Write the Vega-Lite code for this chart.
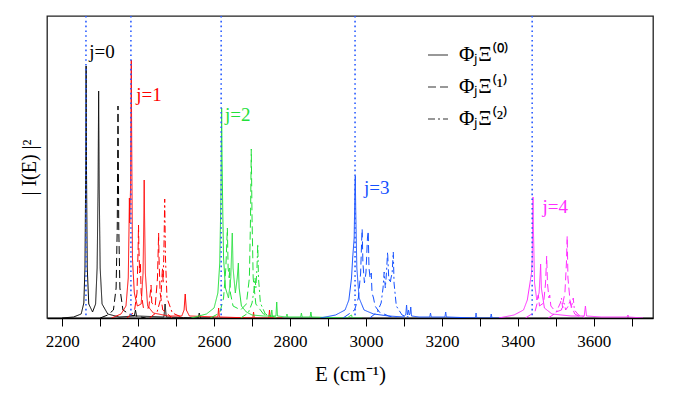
{
  "$schema": "https://vega.github.io/schema/vega-lite/v6.json",
  "width": 606,
  "height": 302,
  "autosize": {"type": "none"},
  "padding": {"left": 47, "top": 16, "right": 26, "bottom": 81},
  "background": "white",
  "config": {
    "view": {"stroke": "#222", "strokeWidth": 1.3},
    "axis": {"labelFont": "Liberation Serif", "titleFont": "Liberation Serif"},
    "legend": {"labelFont": "Liberation Serif"},
    "text": {"font": "Liberation Serif"}
  },
  "layer": [
    {
      "data": {"values": [
        {"E":2200,"I":0,"j":"0","k":"0"},{"E":2230,"I":1,"j":"0","k":"0"},{"E":2250,"I":4,"j":"0","k":"0"},{"E":2257,"I":15,"j":"0","k":"0"},{"E":2260,"I":50,"j":"0","k":"0"},{"E":2262,"I":150,"j":"0","k":"0"},{"E":2263,"I":252,"j":"0","k":"0"},{"E":2264,"I":150,"j":"0","k":"0"},{"E":2266,"I":50,"j":"0","k":"0"},{"E":2270,"I":14,"j":"0","k":"0"},{"E":2280,"I":6,"j":"0","k":"0"},{"E":2288,"I":14,"j":"0","k":"0"},{"E":2292,"I":50,"j":"0","k":"0"},{"E":2294.5,"I":130,"j":"0","k":"0"},{"E":2296,"I":227,"j":"0","k":"0"},{"E":2297.5,"I":130,"j":"0","k":"0"},{"E":2300,"I":50,"j":"0","k":"0"},{"E":2305,"I":14,"j":"0","k":"0"},{"E":2320,"I":4,"j":"0","k":"0"},{"E":2350,"I":1,"j":"0","k":"0"},{"E":2390,"I":2,"j":"0","k":"0"},{"E":2393,"I":8,"j":"0","k":"0"},{"E":2396,"I":2,"j":"0","k":"0"},{"E":2468,"I":1,"j":"0","k":"0"},{"E":2471,"I":14,"j":"0","k":"0"},{"E":2474,"I":1,"j":"0","k":"0"},{"E":2558,"I":0,"j":"0","k":"0"},{"E":2561,"I":5,"j":"0","k":"0"},{"E":2564,"I":0,"j":"0","k":"0"},{"E":2600,"I":0,"j":"0","k":"0"},

        {"E":2300,"I":0,"j":"0","k":"1"},{"E":2320,"I":3,"j":"0","k":"1"},{"E":2335,"I":8,"j":"0","k":"1"},{"E":2342,"I":30,"j":"0","k":"1"},{"E":2345,"I":90,"j":"0","k":"1"},{"E":2347,"I":212,"j":"0","k":"1"},{"E":2349,"I":90,"j":"0","k":"1"},{"E":2352,"I":30,"j":"0","k":"1"},{"E":2360,"I":8,"j":"0","k":"1"},{"E":2380,"I":3,"j":"0","k":"1"},{"E":2420,"I":0,"j":"0","k":"1"},

        {"E":2330,"I":0,"j":"1","k":"0"},{"E":2355,"I":4,"j":"1","k":"0"},{"E":2368,"I":12,"j":"1","k":"0"},{"E":2374,"I":40,"j":"1","k":"0"},{"E":2376,"I":90,"j":"1","k":"0"},{"E":2377,"I":120,"j":"1","k":"0"},{"E":2378,"I":95,"j":"1","k":"0"},{"E":2380,"I":130,"j":"1","k":"0"},{"E":2381,"I":200,"j":"1","k":"0"},{"E":2382,"I":258,"j":"1","k":"0"},{"E":2383,"I":180,"j":"1","k":"0"},{"E":2385,"I":60,"j":"1","k":"0"},{"E":2390,"I":25,"j":"1","k":"0"},{"E":2398,"I":12,"j":"1","k":"0"},{"E":2408,"I":14,"j":"1","k":"0"},{"E":2413,"I":45,"j":"1","k":"0"},{"E":2415,"I":100,"j":"1","k":"0"},{"E":2416,"I":138,"j":"1","k":"0"},{"E":2417,"I":100,"j":"1","k":"0"},{"E":2419,"I":45,"j":"1","k":"0"},{"E":2425,"I":12,"j":"1","k":"0"},{"E":2440,"I":5,"j":"1","k":"0"},{"E":2480,"I":2,"j":"1","k":"0"},{"E":2515,"I":2,"j":"1","k":"0"},{"E":2521,"I":8,"j":"1","k":"0"},{"E":2524,"I":24,"j":"1","k":"0"},{"E":2527,"I":8,"j":"1","k":"0"},{"E":2535,"I":2,"j":"1","k":"0"},{"E":2610,"I":1,"j":"1","k":"0"},{"E":2612,"I":10,"j":"1","k":"0"},{"E":2614,"I":1,"j":"1","k":"0"},{"E":2702,"I":0,"j":"1","k":"0"},{"E":2704,"I":6,"j":"1","k":"0"},{"E":2706,"I":0,"j":"1","k":"0"},{"E":2744,"I":0,"j":"1","k":"0"},{"E":2746,"I":8,"j":"1","k":"0"},{"E":2748,"I":0,"j":"1","k":"0"},{"E":2780,"I":0,"j":"1","k":"0"},

        {"E":2370,"I":0,"j":"1","k":"1"},{"E":2390,"I":6,"j":"1","k":"1"},{"E":2397,"I":25,"j":"1","k":"1"},{"E":2400,"I":70,"j":"1","k":"1"},{"E":2401,"I":93,"j":"1","k":"1"},{"E":2402,"I":70,"j":"1","k":"1"},{"E":2404,"I":45,"j":"1","k":"1"},{"E":2406,"I":55,"j":"1","k":"1"},{"E":2408,"I":25,"j":"1","k":"1"},{"E":2414,"I":10,"j":"1","k":"1"},{"E":2428,"I":10,"j":"1","k":"1"},{"E":2432,"I":25,"j":"1","k":"1"},{"E":2434,"I":33,"j":"1","k":"1"},{"E":2436,"I":15,"j":"1","k":"1"},{"E":2445,"I":12,"j":"1","k":"1"},{"E":2451,"I":40,"j":"1","k":"1"},{"E":2453,"I":70,"j":"1","k":"1"},{"E":2454,"I":85,"j":"1","k":"1"},{"E":2455,"I":60,"j":"1","k":"1"},{"E":2458,"I":25,"j":"1","k":"1"},{"E":2465,"I":8,"j":"1","k":"1"},{"E":2490,"I":0,"j":"1","k":"1"},

        {"E":2430,"I":0,"j":"1","k":"2"},{"E":2450,"I":6,"j":"1","k":"2"},{"E":2460,"I":20,"j":"1","k":"2"},{"E":2464,"I":50,"j":"1","k":"2"},{"E":2466,"I":35,"j":"1","k":"2"},{"E":2468,"I":70,"j":"1","k":"2"},{"E":2470,"I":119,"j":"1","k":"2"},{"E":2472,"I":60,"j":"1","k":"2"},{"E":2476,"I":20,"j":"1","k":"2"},{"E":2490,"I":5,"j":"1","k":"2"},{"E":2520,"I":0,"j":"1","k":"2"},

        {"E":2540,"I":0,"j":"2","k":"0"},{"E":2580,"I":4,"j":"2","k":"0"},{"E":2600,"I":10,"j":"2","k":"0"},{"E":2610,"I":25,"j":"2","k":"0"},{"E":2615,"I":55,"j":"2","k":"0"},{"E":2618,"I":120,"j":"2","k":"0"},{"E":2620,"I":210,"j":"2","k":"0"},{"E":2621,"I":160,"j":"2","k":"0"},{"E":2623,"I":105,"j":"2","k":"0"},{"E":2625,"I":60,"j":"2","k":"0"},{"E":2630,"I":30,"j":"2","k":"0"},{"E":2638,"I":20,"j":"2","k":"0"},{"E":2644,"I":40,"j":"2","k":"0"},{"E":2647,"I":75,"j":"2","k":"0"},{"E":2648,"I":85,"j":"2","k":"0"},{"E":2650,"I":50,"j":"2","k":"0"},{"E":2656,"I":25,"j":"2","k":"0"},{"E":2661,"I":40,"j":"2","k":"0"},{"E":2664,"I":55,"j":"2","k":"0"},{"E":2666,"I":30,"j":"2","k":"0"},{"E":2672,"I":12,"j":"2","k":"0"},{"E":2685,"I":6,"j":"2","k":"0"},{"E":2700,"I":3,"j":"2","k":"0"},{"E":2730,"I":2,"j":"2","k":"0"},{"E":2750,"I":2,"j":"2","k":"0"},{"E":2752,"I":8,"j":"2","k":"0"},{"E":2754,"I":2,"j":"2","k":"0"},{"E":2763,"I":2,"j":"2","k":"0"},{"E":2765,"I":16,"j":"2","k":"0"},{"E":2767,"I":2,"j":"2","k":"0"},{"E":2790,"I":1,"j":"2","k":"0"},{"E":2792,"I":4,"j":"2","k":"0"},{"E":2794,"I":1,"j":"2","k":"0"},{"E":2828,"I":1,"j":"2","k":"0"},{"E":2830,"I":5,"j":"2","k":"0"},{"E":2832,"I":1,"j":"2","k":"0"},{"E":2853,"I":1,"j":"2","k":"0"},{"E":2855,"I":6,"j":"2","k":"0"},{"E":2857,"I":1,"j":"2","k":"0"},{"E":2950,"I":0,"j":"2","k":"0"},{"E":2962,"I":3,"j":"2","k":"0"},{"E":2964,"I":0,"j":"2","k":"0"},{"E":2990,"I":0,"j":"2","k":"0"},

        {"E":2590,"I":0,"j":"2","k":"1"},{"E":2615,"I":5,"j":"2","k":"1"},{"E":2625,"I":20,"j":"2","k":"1"},{"E":2631,"I":50,"j":"2","k":"1"},{"E":2635,"I":90,"j":"2","k":"1"},{"E":2637,"I":50,"j":"2","k":"1"},{"E":2640,"I":40,"j":"2","k":"1"},{"E":2641,"I":50,"j":"2","k":"1"},{"E":2643,"I":25,"j":"2","k":"1"},{"E":2650,"I":12,"j":"2","k":"1"},{"E":2670,"I":8,"j":"2","k":"1"},{"E":2685,"I":14,"j":"2","k":"1"},{"E":2693,"I":40,"j":"2","k":"1"},{"E":2696,"I":100,"j":"2","k":"1"},{"E":2698,"I":169,"j":"2","k":"1"},{"E":2700,"I":100,"j":"2","k":"1"},{"E":2703,"I":40,"j":"2","k":"1"},{"E":2710,"I":14,"j":"2","k":"1"},{"E":2730,"I":4,"j":"2","k":"1"},{"E":2770,"I":0,"j":"2","k":"1"},

        {"E":2670,"I":0,"j":"2","k":"2"},{"E":2690,"I":5,"j":"2","k":"2"},{"E":2700,"I":15,"j":"2","k":"2"},{"E":2706,"I":30,"j":"2","k":"2"},{"E":2708,"I":40,"j":"2","k":"2"},{"E":2710,"I":30,"j":"2","k":"2"},{"E":2713,"I":50,"j":"2","k":"2"},{"E":2715,"I":74,"j":"2","k":"2"},{"E":2717,"I":40,"j":"2","k":"2"},{"E":2722,"I":15,"j":"2","k":"2"},{"E":2735,"I":4,"j":"2","k":"2"},{"E":2760,"I":0,"j":"2","k":"2"},

        {"E":2880,"I":0,"j":"3","k":"0"},{"E":2920,"I":3,"j":"3","k":"0"},{"E":2945,"I":8,"j":"3","k":"0"},{"E":2955,"I":18,"j":"3","k":"0"},{"E":2962,"I":40,"j":"3","k":"0"},{"E":2965,"I":60,"j":"3","k":"0"},{"E":2967,"I":70,"j":"3","k":"0"},{"E":2969,"I":80,"j":"3","k":"0"},{"E":2971,"I":130,"j":"3","k":"0"},{"E":2972,"I":142,"j":"3","k":"0"},{"E":2973,"I":110,"j":"3","k":"0"},{"E":2976,"I":50,"j":"3","k":"0"},{"E":2982,"I":20,"j":"3","k":"0"},{"E":2995,"I":8,"j":"3","k":"0"},{"E":3020,"I":4,"j":"3","k":"0"},{"E":3060,"I":2,"j":"3","k":"0"},{"E":3100,"I":1,"j":"3","k":"0"},{"E":3105,"I":4,"j":"3","k":"0"},{"E":3107,"I":13,"j":"3","k":"0"},{"E":3109,"I":3,"j":"3","k":"0"},{"E":3112,"I":8,"j":"3","k":"0"},{"E":3114,"I":3,"j":"3","k":"0"},{"E":3116,"I":4,"j":"3","k":"0"},{"E":3118,"I":11,"j":"3","k":"0"},{"E":3120,"I":2,"j":"3","k":"0"},{"E":3140,"I":1,"j":"3","k":"0"},{"E":3168,"I":1,"j":"3","k":"0"},{"E":3170,"I":5,"j":"3","k":"0"},{"E":3172,"I":1,"j":"3","k":"0"},{"E":3208,"I":1,"j":"3","k":"0"},{"E":3210,"I":6,"j":"3","k":"0"},{"E":3212,"I":1,"j":"3","k":"0"},{"E":3288,"I":0,"j":"3","k":"0"},{"E":3290,"I":5,"j":"3","k":"0"},{"E":3292,"I":0,"j":"3","k":"0"},{"E":3328,"I":0,"j":"3","k":"0"},{"E":3330,"I":4,"j":"3","k":"0"},{"E":3332,"I":0,"j":"3","k":"0"},{"E":3360,"I":0,"j":"3","k":"0"},

        {"E":2940,"I":0,"j":"3","k":"1"},{"E":2970,"I":8,"j":"3","k":"1"},{"E":2980,"I":20,"j":"3","k":"1"},{"E":2986,"I":45,"j":"3","k":"1"},{"E":2989,"I":80,"j":"3","k":"1"},{"E":2990,"I":89,"j":"3","k":"1"},{"E":2992,"I":55,"j":"3","k":"1"},{"E":2996,"I":35,"j":"3","k":"1"},{"E":3000,"I":45,"j":"3","k":"1"},{"E":3004,"I":80,"j":"3","k":"1"},{"E":3006,"I":87,"j":"3","k":"1"},{"E":3008,"I":50,"j":"3","k":"1"},{"E":3011,"I":40,"j":"3","k":"1"},{"E":3014,"I":45,"j":"3","k":"1"},{"E":3016,"I":25,"j":"3","k":"1"},{"E":3020,"I":20,"j":"3","k":"1"},{"E":3024,"I":12,"j":"3","k":"1"},{"E":3035,"I":6,"j":"3","k":"1"},{"E":3060,"I":2,"j":"3","k":"1"},{"E":3080,"I":0,"j":"3","k":"1"},

        {"E":3010,"I":0,"j":"3","k":"2"},{"E":3030,"I":6,"j":"3","k":"2"},{"E":3040,"I":15,"j":"3","k":"2"},{"E":3045,"I":30,"j":"3","k":"2"},{"E":3048,"I":46,"j":"3","k":"2"},{"E":3051,"I":30,"j":"3","k":"2"},{"E":3054,"I":45,"j":"3","k":"2"},{"E":3057,"I":66,"j":"3","k":"2"},{"E":3060,"I":40,"j":"3","k":"2"},{"E":3064,"I":35,"j":"3","k":"2"},{"E":3066,"I":40,"j":"3","k":"2"},{"E":3069,"I":45,"j":"3","k":"2"},{"E":3072,"I":66,"j":"3","k":"2"},{"E":3074,"I":35,"j":"3","k":"2"},{"E":3080,"I":12,"j":"3","k":"2"},{"E":3095,"I":3,"j":"3","k":"2"},{"E":3120,"I":0,"j":"3","k":"2"},

        {"E":3350,"I":0,"j":"4","k":"0"},{"E":3390,"I":3,"j":"4","k":"0"},{"E":3415,"I":8,"j":"4","k":"0"},{"E":3425,"I":18,"j":"4","k":"0"},{"E":3432,"I":35,"j":"4","k":"0"},{"E":3436,"I":45,"j":"4","k":"0"},{"E":3438,"I":60,"j":"4","k":"0"},{"E":3439,"I":100,"j":"4","k":"0"},{"E":3440,"I":121,"j":"4","k":"0"},{"E":3441,"I":90,"j":"4","k":"0"},{"E":3444,"I":35,"j":"4","k":"0"},{"E":3450,"I":18,"j":"4","k":"0"},{"E":3456,"I":25,"j":"4","k":"0"},{"E":3459,"I":45,"j":"4","k":"0"},{"E":3460,"I":54,"j":"4","k":"0"},{"E":3462,"I":30,"j":"4","k":"0"},{"E":3470,"I":10,"j":"4","k":"0"},{"E":3490,"I":4,"j":"4","k":"0"},{"E":3540,"I":2,"j":"4","k":"0"},{"E":3575,"I":2,"j":"4","k":"0"},{"E":3578,"I":12,"j":"4","k":"0"},{"E":3581,"I":2,"j":"4","k":"0"},{"E":3620,"I":1,"j":"4","k":"0"},{"E":3688,"I":1,"j":"4","k":"0"},{"E":3690,"I":3,"j":"4","k":"0"},{"E":3692,"I":1,"j":"4","k":"0"},{"E":3730,"I":0,"j":"4","k":"0"},

        {"E":3420,"I":0,"j":"4","k":"1"},{"E":3445,"I":6,"j":"4","k":"1"},{"E":3451,"I":15,"j":"4","k":"1"},{"E":3454,"I":23,"j":"4","k":"1"},{"E":3457,"I":12,"j":"4","k":"1"},{"E":3468,"I":15,"j":"4","k":"1"},{"E":3473,"I":35,"j":"4","k":"1"},{"E":3476,"I":62,"j":"4","k":"1"},{"E":3478,"I":35,"j":"4","k":"1"},{"E":3482,"I":20,"j":"4","k":"1"},{"E":3484,"I":23,"j":"4","k":"1"},{"E":3487,"I":12,"j":"4","k":"1"},{"E":3500,"I":6,"j":"4","k":"1"},{"E":3515,"I":8,"j":"4","k":"1"},{"E":3524,"I":25,"j":"4","k":"1"},{"E":3528,"I":55,"j":"4","k":"1"},{"E":3530,"I":82,"j":"4","k":"1"},{"E":3532,"I":40,"j":"4","k":"1"},{"E":3538,"I":15,"j":"4","k":"1"},{"E":3550,"I":4,"j":"4","k":"1"},{"E":3570,"I":0,"j":"4","k":"1"},

        {"E":3480,"I":0,"j":"4","k":"2"},{"E":3500,"I":5,"j":"4","k":"2"},{"E":3512,"I":15,"j":"4","k":"2"},{"E":3515,"I":20,"j":"4","k":"2"},{"E":3518,"I":10,"j":"4","k":"2"},{"E":3522,"I":15,"j":"4","k":"2"},{"E":3526,"I":8,"j":"4","k":"2"},{"E":3533,"I":12,"j":"4","k":"2"},{"E":3538,"I":18,"j":"4","k":"2"},{"E":3541,"I":10,"j":"4","k":"2"},{"E":3546,"I":20,"j":"4","k":"2"},{"E":3549,"I":8,"j":"4","k":"2"},{"E":3560,"I":3,"j":"4","k":"2"},{"E":3580,"I":0,"j":"4","k":"2"}
      ]},
      "mark": {"type": "line", "strokeWidth": 1, "clip": true},
      "encoding": {
        "x": {
          "field": "E", "type": "quantitative",
          "scale": {"domain": [2160, 3756], "nice": false, "zero": false},
          "axis": {
            "values": [2200,2250,2300,2350,2400,2450,2500,2550,2600,2650,2700,2750,2800,2850,2900,2950,3000,3050,3100,3150,3200,3250,3300,3350,3400,3450,3500,3550,3600,3650,3700,3750],
            "labelExpr": "datum.value % 200 == 0 ? datum.label : ''",
            "format": "d",
            "grid": false,
            "tickSize": 8,
            "tickColor": "#000",
            "tickWidth": 1,
            "domainColor": "#000",
            "domainWidth": 1.5,
            "labelFont": "Liberation Serif",
            "labelFontSize": 17,
            "labelColor": "#000",
            "labelPadding": 7,
            "labelFlush": false,
            "title": "E (cm⁻¹)",
            "titleFont": "Liberation Serif",
            "titleFontSize": 21,
            "titleFontWeight": "normal",
            "titleColor": "#000",
            "titlePadding": 14
          }
        },
        "y": {
          "field": "I", "type": "quantitative",
          "scale": {"domain": [0, 302], "nice": false},
          "axis": {
            "labels": false, "ticks": false, "domain": false, "grid": false,
            "title": "| I(E) |²",
            "titleFont": "Liberation Serif",
            "titleFontSize": 20,
            "titleFontWeight": "normal",
            "titleColor": "#000",
            "titlePadding": 8
          }
        },
        "color": {
          "field": "j", "type": "nominal",
          "scale": {"domain": ["0","1","2","3","4"], "range": ["#000000","#ff0000","#22e03a","#1450ff","#ff2cff"]},
          "legend": null
        },
        "strokeDash": {
          "field": "k", "type": "nominal",
          "scale": {"domain": ["0","1","2"], "range": [[1,0],[8,4],[7,3,2,3]]},
          "legend": {
            "orient": "none",
            "legendX": 380,
            "legendY": 28,
            "title": null,
            "symbolType": "stroke",
            "symbolSize": 400,
            "symbolStrokeWidth": 1.2,
            "symbolStrokeColor": "#333",
            "labelFont": "Liberation Serif",
            "labelFontSize": 21,
            "labelColor": "#000",
            "labelOffset": 10,
            "rowPadding": 11,
            "padding": 0,
            "labelExpr": "datum.label == '0' ? 'ΦⱼΞ⁽⁰⁾' : datum.label == '1' ? 'ΦⱼΞ⁽¹⁾' : 'ΦⱼΞ⁽²⁾'"
          }
        }
      }
    },
    {
      "data": {"values": [{"E":2262.6},{"E":2381},{"E":2618.7},{"E":2971.3},{"E":3437.8}]},
      "mark": {"type": "rule", "color": "#2a5cff", "strokeWidth": 1.6, "strokeDash": [1.6, 3.2]},
      "encoding": {"x": {"field": "E", "type": "quantitative"}}
    },
    {
      "data": {"values": [
        {"E":2271,"I":266,"t":"j=0","j":"0"},
        {"E":2395,"I":223,"t":"j=1","j":"1"},
        {"E":2629,"I":203,"t":"j=2","j":"2"},
        {"E":2995,"I":130,"t":"j=3","j":"3"},
        {"E":3465,"I":111,"t":"j=4","j":"4"}
      ]},
      "mark": {"type": "text", "align": "left", "baseline": "middle", "font": "Liberation Serif", "fontSize": 19},
      "encoding": {
        "x": {"field": "E", "type": "quantitative"},
        "y": {"field": "I", "type": "quantitative"},
        "text": {"field": "t"},
        "color": {"field": "j", "type": "nominal", "legend": null}
      }
    }
  ]
}
